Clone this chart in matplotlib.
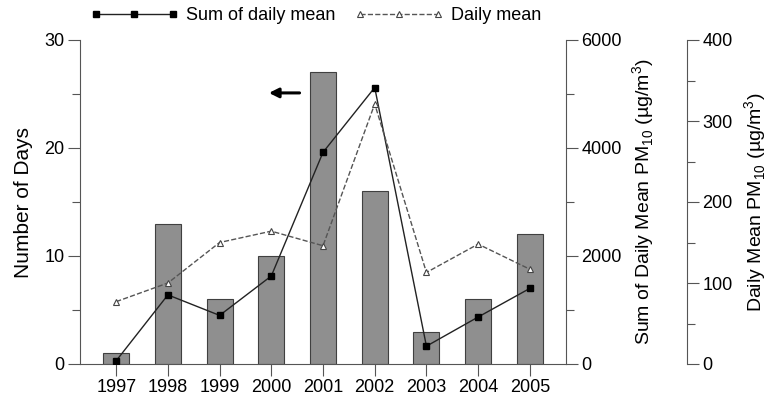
import numpy as np
import matplotlib
matplotlib.use("Agg")
import matplotlib.pyplot as plt
from matplotlib.ticker import MultipleLocator

plt.rcParams['font.family'] = ['Liberation Sans', 'DejaVu Sans']
plt.rcParams['font.size'] = 13
plt.rcParams['mathtext.fontset'] = 'custom'
plt.rcParams['mathtext.rm'] = 'Liberation Sans'

years = [1997, 1998, 1999, 2000, 2001, 2002, 2003, 2004, 2005]
days = [1, 13, 6, 10, 27, 16, 3, 6, 12]
sum_daily = [60, 1280, 900, 1630, 3920, 5120, 330, 870, 1400]
daily_mean = [77, 100, 150, 164, 146, 321, 113, 148, 117]

fig = plt.figure(figsize=(7.7, 4), dpi=100)
ax = fig.add_axes([0.1039, 0.09, 0.6312, 0.81])
ax2 = ax.twinx()
ax3 = ax.twinx()

ax.bar(years, days, width=0.5, color='#8f8f8f', edgecolor='#404040', linewidth=0.8, zorder=2)
ax.set_xlim(1996.3, 2005.7)
ax.set_ylim(0, 30)
ax.yaxis.set_major_locator(MultipleLocator(10))
ax.yaxis.set_minor_locator(MultipleLocator(5))
ax.set_xticks(years)
ax.set_ylabel('Number of Days', fontsize=15, labelpad=8)
for s in ['top', 'right']:
    ax.spines[s].set_visible(False)

l1, = ax2.plot(years, sum_daily, '-', color='#222222', lw=1, marker='s', ms=5,
               mfc='black', mec='black', label='Sum of daily mean')
ax2.set_ylim(0, 6000)
ax2.yaxis.set_major_locator(MultipleLocator(2000))
ax2.yaxis.set_minor_locator(MultipleLocator(1000))
ax2.set_ylabel(r'Sum of Daily Mean PM$_{\mathrm{10}}$ (µg/m$^{\mathrm{3}}$)', fontsize=14, labelpad=6)
for s in ['top', 'left', 'bottom']:
    ax2.spines[s].set_visible(False)

l2, = ax3.plot(years, daily_mean, '--', color='#555555', lw=1, marker='^', ms=5,
               mfc='white', mec='#444444', mew=0.8, label='Daily mean')
ax3.set_ylim(0, 400)
ax3.yaxis.set_major_locator(MultipleLocator(100))
ax3.yaxis.set_minor_locator(MultipleLocator(50))
ax3.spines['right'].set_position(('axes', 1.249))
ax3.set_ylabel(r'Daily Mean PM$_{\mathrm{10}}$ (µg/m$^{\mathrm{3}}$)', fontsize=14, labelpad=7)
for s in ['top', 'left', 'bottom']:
    ax3.spines[s].set_visible(False)

for a in (ax, ax2, ax3):
    a.tick_params(which='major', length=8.5, width=0.8, color='#555555', pad=2.5)
    a.tick_params(which='minor', length=5.5, width=0.8, color='#555555')
    for s in a.spines.values():
        s.set_color('#555555')
        s.set_linewidth(0.8)

ax.annotate('', xy=(1999.9, 25.1), xytext=(2000.6, 25.1),
            arrowprops=dict(arrowstyle='-|>', color='black', lw=2.2, mutation_scale=14))

fig.legend(handles=[l1, l2], loc='center left', bbox_to_anchor=(0.117, 0.96), ncol=2,
           frameon=False, numpoints=3, handlelength=4.9, handletextpad=0.4,
           columnspacing=1.1, borderpad=0, borderaxespad=0, fontsize=13)

fig.savefig('out.png', dpi=100)
